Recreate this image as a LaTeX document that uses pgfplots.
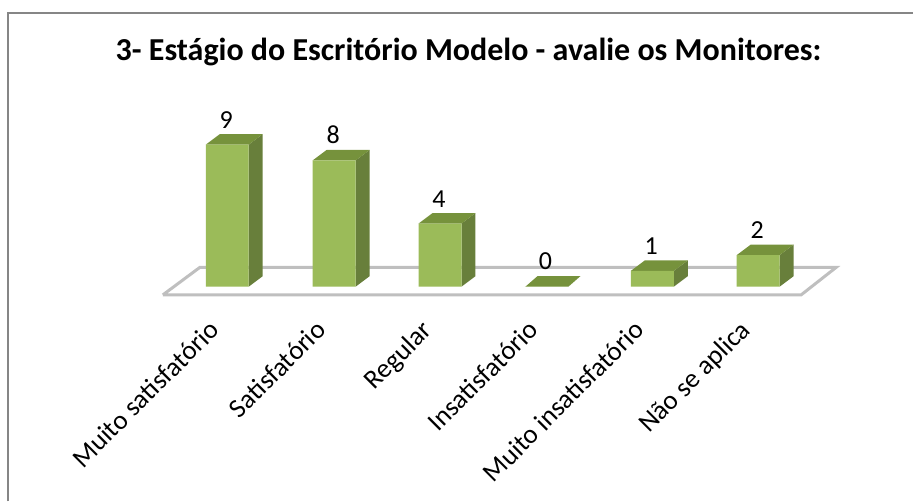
\documentclass[border=0pt]{standalone}
\usepackage{fontspec}
\setmainfont{Carlito}
\usepackage{pgfplots}
\pgfplotsset{compat=1.18}
\definecolor{front}{HTML}{9BBB59}
\definecolor{sidef}{HTML}{687F3B}
\definecolor{topf}{HTML}{76923C}
\definecolor{floorc}{HTML}{BFBFBF}
\definecolor{framec}{HTML}{868686}
\begin{document}
\begin{tikzpicture}[x=1pt,y=1pt]
\begin{axis}[
  at={(0,0)},anchor=south west,
  scale only axis,width=914pt,height=502pt,
  xmin=0,xmax=914,ymin=-13.608,ymax=18.165,
  axis line style={draw=none},
  tick style={draw=none},
  ytick=\empty,
  xtick={227.5,334.5,440.5,547,653,759},
  xticklabels={Muito satisfatório,Satisfatório,Regular,Insatisfatório,Muito insatisfatório,Não se aplica},
  xticklabel style={font=\fontsize{27}{31}\selectfont,yshift=188pt,xshift=-20pt,rotate=45,anchor=north east},
  clip=false,
  title style={font=\bfseries\fontsize{32}{37}\selectfont,at={(469pt,444pt)},anchor=center,yshift=0pt},
  title={3- Estágio do Escritório Modelo - avalie os Monitores:},
]
% chart frame
\addplot[framec,line width=2pt] coordinates {(8,-13.608) (8,17.34) (914,17.34)};
% floor
\addplot[floorc,line width=3pt,fill=white] coordinates {(163,-0.52) (200,1.22) (837,1.22) (802,-0.52) (163,-0.52)};
% side faces
\addplot[sidef,fill=sidef,draw=none] coordinates {(249,0) (263,0.665) (263,9.665) (249,9) (249,0)};
\addplot[sidef,fill=sidef,draw=none] coordinates {(356,0) (370,0.665) (370,8.665) (356,8) (356,0)};
\addplot[sidef,fill=sidef,draw=none] coordinates {(462,0) (476,0.665) (476,4.665) (462,4) (462,0)};
\addplot[sidef,fill=sidef,draw=none] coordinates {(674.5,0) (688.5,0.665) (688.5,1.665) (674.5,1) (674.5,0)};
\addplot[sidef,fill=sidef,draw=none] coordinates {(780.5,0) (794.5,0.665) (794.5,2.665) (780.5,2) (780.5,0)};
% top faces
\addplot[topf,fill=topf,draw=none] coordinates {(206,9) (220,9.665) (263,9.665) (249,9) (206,9)};
\addplot[topf,fill=topf,draw=none] coordinates {(313,8) (327,8.665) (370,8.665) (356,8) (313,8)};
\addplot[topf,fill=topf,draw=none] coordinates {(419,4) (433,4.665) (476,4.665) (462,4) (419,4)};
\addplot[topf,fill=topf,draw=none] coordinates {(526,0) (538,0.665) (581,0.665) (569,0) (526,0)};
\addplot[topf,fill=topf,draw=none] coordinates {(631.5,1) (645.5,1.665) (688.5,1.665) (674.5,1) (631.5,1)};
\addplot[topf,fill=topf,draw=none] coordinates {(737.5,2) (751.5,2.665) (794.5,2.665) (780.5,2) (737.5,2)};
% front faces with the values
\addplot[ybar,bar width=43pt,fill=front,draw=none,
  nodes near coords,
  every node near coord/.append style={font=\fontsize{26}{30}\selectfont,text=black,yshift=13pt,xshift=-1pt,
     /pgf/number format/assume math mode=true},
  ] coordinates {(227.5,9) (334.5,8) (440.5,4) (547,0) (653,1) (759,2)};
\end{axis}
\useasboundingbox (0,0) rectangle (914pt,502pt);
\end{tikzpicture}
\end{document}
